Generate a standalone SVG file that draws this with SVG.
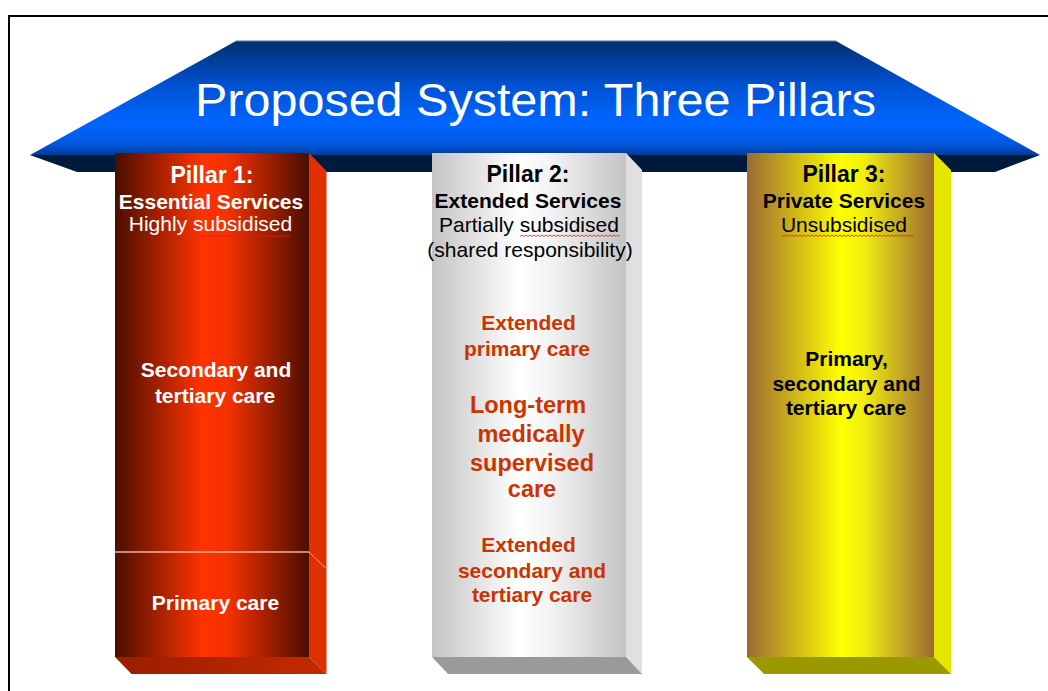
<svg xmlns="http://www.w3.org/2000/svg" width="1048" height="691" viewBox="0 0 1048 691">
  <defs>
    <linearGradient id="roofTop" x1="0" y1="41" x2="0" y2="155" gradientUnits="userSpaceOnUse">
      <stop offset="0" stop-color="#002f6c"/>
      <stop offset="0.4" stop-color="#0052d4"/>
      <stop offset="0.72" stop-color="#0066ff"/>
      <stop offset="0.9" stop-color="#0058e2"/>
      <stop offset="1" stop-color="#003c96"/>
    </linearGradient>
    <linearGradient id="p1front" x1="0" y1="0" x2="1" y2="0">
      <stop offset="0" stop-color="#4a0e00"/>
      <stop offset="0.45" stop-color="#ff3300"/>
      <stop offset="0.58" stop-color="#f43100"/>
      <stop offset="1" stop-color="#4a0e00"/>
    </linearGradient>
    <linearGradient id="p1bottom" x1="0" y1="0" x2="1" y2="0">
      <stop offset="0" stop-color="#9a1e00"/>
      <stop offset="1" stop-color="#c42a00"/>
    </linearGradient>
    <linearGradient id="p2front" x1="0" y1="0" x2="1" y2="0">
      <stop offset="0" stop-color="#c4c4c4"/>
      <stop offset="0.45" stop-color="#ffffff"/>
      <stop offset="0.6" stop-color="#f4f4f4"/>
      <stop offset="1" stop-color="#c4c4c4"/>
    </linearGradient>
    <linearGradient id="p3front" x1="0" y1="0" x2="1" y2="0">
      <stop offset="0" stop-color="#9c6a32"/>
      <stop offset="0.5" stop-color="#ffff00"/>
      <stop offset="0.62" stop-color="#f2ef10"/>
      <stop offset="1" stop-color="#9c6a32"/>
    </linearGradient>
  </defs>
  <style>
    text { font-family: "Liberation Sans", Arial, sans-serif; text-anchor: middle; }
    .title { font-size: 46px; fill: #ffffff; }
    .pl { font-size: 23px; font-weight: bold; }
    .sub { font-size: 21px; font-weight: bold; }
    .reg { font-size: 21px; }
    .body { font-size: 21px; font-weight: bold; }
    .big { font-size: 23.5px; font-weight: bold; }
    .w { fill: #ffffff; }
    .k { fill: #000000; }
    .r { fill: #cc3300; }
    .squig { fill: none; stroke: #e02020; stroke-width: 1; opacity: 0.8; }
  </style>

  <rect x="0" y="0" width="1048" height="691" fill="#ffffff"/>
  <rect x="9" y="16" width="1060" height="700" fill="#ffffff" stroke="#000000" stroke-width="2"/>

  <g id="roof">
    <polygon points="30,155 1040,155 995,172 77,172" fill="#001a3e"/>
    <polygon points="236,41 836,41 1040,155 30,155" fill="url(#roofTop)"/>
    <line x1="236" y1="41" x2="836" y2="41" stroke="#5a7aa6" stroke-width="1"/>
    <text class="title" x="535.5" y="116" textLength="681" lengthAdjust="spacingAndGlyphs">Proposed System: Three Pillars</text>
  </g>

  <g id="pillar1">
    <polygon points="309,153 326.5,171 326.5,674 309,657" fill="#e03000"/>
    <polygon points="115,657 309,657 326.5,674 131.5,674" fill="url(#p1bottom)"/>
    <rect x="115" y="153" width="194" height="504" fill="url(#p1front)"/>
    <line x1="115" y1="552" x2="309" y2="552" stroke="#f0b0a0" stroke-width="1.5"/>
    <line x1="309" y1="552" x2="325.5" y2="568" stroke="#f0b0a0" stroke-width="1"/>
    <text class="pl w" x="212" y="183">Pillar 1:</text>
    <text class="sub w" x="211" y="209">Essential Services</text>
    <text class="reg w" x="210.5" y="231">Highly subsidised</text>
    <path class="squig" d="M194,237 l2,-1.5 l2,1.5 l2,-1.5 l2,1.5 l2,-1.5 l2,1.5 l2,-1.5 l2,1.5 l2,-1.5 l2,1.5 l2,-1.5 l2,1.5 l2,-1.5 l2,1.5 l2,-1.5 l2,1.5 l2,-1.5 l2,1.5 l2,-1.5 l2,1.5 l2,-1.5 l2,1.5 l2,-1.5 l2,1.5 l2,-1.5 l2,1.5 l2,-1.5 l2,1.5 l2,-1.5 l2,1.5 l2,-1.5 l2,1.5 l2,-1.5 l2,1.5 l2,-1.5 l2,1.5 l2,-1.5 l2,1.5 l2,-1.5 l2,1.5 l2,-1.5 l2,1.5 l2,-1.5 l2,1.5 l2,-1.5 l2,1.5 l2,-1.5 l2,1.5"/>
    <text class="body w" x="216" y="377">Secondary and</text>
    <text class="body w" x="215" y="403">tertiary care</text>
    <text class="body w" x="215.5" y="609.5">Primary care</text>
  </g>

  <g id="pillar2">
    <polygon points="626,153 642,170 642,674 626,657" fill="#e0e0e0"/>
    <polygon points="432,657 626,657 642,674 448,674" fill="#9a9a9a"/>
    <rect x="432" y="153" width="194" height="504" fill="url(#p2front)"/>
    <text class="pl k" x="528" y="182">Pillar 2:</text>
    <text class="sub k" x="528" y="208">Extended Services</text>
    <text class="reg k" x="529" y="232">Partially subsidised</text>
    <path class="squig" d="M520,236.5 l2,-1.5 l2,1.5 l2,-1.5 l2,1.5 l2,-1.5 l2,1.5 l2,-1.5 l2,1.5 l2,-1.5 l2,1.5 l2,-1.5 l2,1.5 l2,-1.5 l2,1.5 l2,-1.5 l2,1.5 l2,-1.5 l2,1.5 l2,-1.5 l2,1.5 l2,-1.5 l2,1.5 l2,-1.5 l2,1.5 l2,-1.5 l2,1.5 l2,-1.5 l2,1.5 l2,-1.5 l2,1.5 l2,-1.5 l2,1.5 l2,-1.5 l2,1.5 l2,-1.5 l2,1.5 l2,-1.5 l2,1.5 l2,-1.5 l2,1.5 l2,-1.5 l2,1.5 l2,-1.5 l2,1.5 l2,-1.5 l2,1.5 l2,-1.5 l2,1.5 l2,-1.5 l2,1.5"/>
    <text class="reg k" x="530" y="257">(shared responsibility)</text>
    <text class="body r" x="528.5" y="330">Extended</text>
    <text class="body r" x="527" y="355.5">primary care</text>
    <text class="big r" x="528" y="413">Long-term</text>
    <text class="big r" x="531" y="442">medically</text>
    <text class="big r" x="532" y="470.5">supervised</text>
    <text class="big r" x="532" y="497">care</text>
    <text class="body r" x="528.5" y="552">Extended</text>
    <text class="body r" x="532" y="578">secondary and</text>
    <text class="body r" x="532" y="602">tertiary care</text>
  </g>

  <g id="pillar3">
    <polygon points="934,153 951,170 951,674 934,657" fill="#e5e500"/>
    <polygon points="747,657 934,657 951,674 764,674" fill="#9a9a00"/>
    <rect x="747" y="153" width="187" height="504" fill="url(#p3front)"/>
    <text class="pl k" x="844" y="182">Pillar 3:</text>
    <text class="sub k" x="844" y="208">Private Services</text>
    <text class="reg k" x="844" y="232">Unsubsidised</text>
    <path class="squig" d="M782,236.5 l2,-1.5 l2,1.5 l2,-1.5 l2,1.5 l2,-1.5 l2,1.5 l2,-1.5 l2,1.5 l2,-1.5 l2,1.5 l2,-1.5 l2,1.5 l2,-1.5 l2,1.5 l2,-1.5 l2,1.5 l2,-1.5 l2,1.5 l2,-1.5 l2,1.5 l2,-1.5 l2,1.5 l2,-1.5 l2,1.5 l2,-1.5 l2,1.5 l2,-1.5 l2,1.5 l2,-1.5 l2,1.5 l2,-1.5 l2,1.5 l2,-1.5 l2,1.5 l2,-1.5 l2,1.5 l2,-1.5 l2,1.5 l2,-1.5 l2,1.5 l2,-1.5 l2,1.5 l2,-1.5 l2,1.5 l2,-1.5 l2,1.5 l2,-1.5 l2,1.5 l2,-1.5 l2,1.5 l2,-1.5 l2,1.5 l2,-1.5 l2,1.5 l2,-1.5 l2,1.5 l2,-1.5 l2,1.5 l2,-1.5 l2,1.5 l2,-1.5 l2,1.5 l2,-1.5 l2,1.5 l2,-1.5 l2,1.5"/>
    <text class="body k" x="846.5" y="366">Primary,</text>
    <text class="body k" x="846.5" y="390.5">secondary and</text>
    <text class="body k" x="846" y="415">tertiary care</text>
  </g>

  <g id="connectors"/>
</svg>
